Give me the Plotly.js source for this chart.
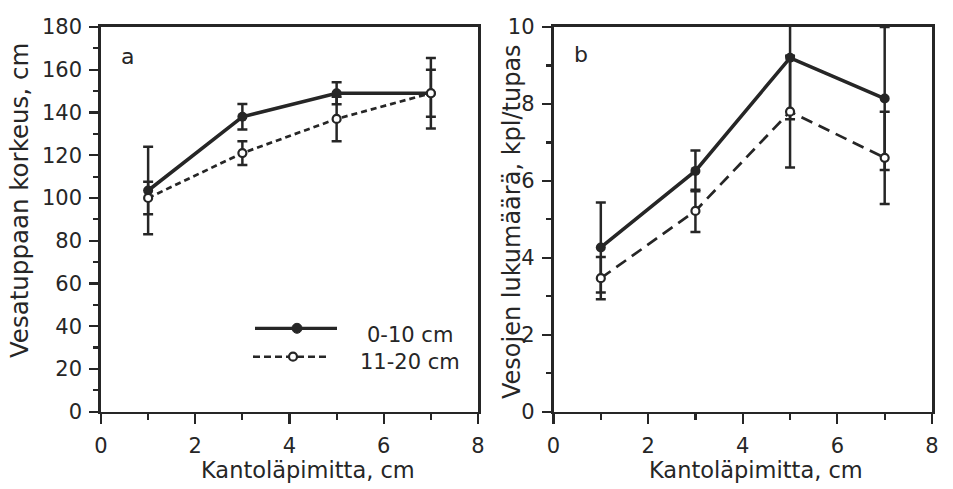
<!DOCTYPE html>
<html>
<head>
<meta charset="utf-8">
<script src="https://cdn.plot.ly/plotly-3.0.1.min.js"></script>
<style>html,body{margin:0;padding:0;background:#fff;}#chart{width:953px;height:489px;}</style>
</head>
<body>
<div id="chart"></div>
<script>
// ---- data ----
const diameters = [1, 3, 5, 7];                 // Kantoläpimitta, cm
const seriesNames = ["0-10 cm", "11-20 cm"];

// panel a: Vesatuppaan korkeus, cm
const heightShallow = [103.5, 138, 149, 149];
const heightShallowErr = [20.5, 6, 5.2, 11];
const heightDeep = [100, 121, 137, 149];
const heightDeepErr = [7.6, 5.6, 10.4, 16.5];

// panel b: Vesojen lukumäärä, kpl/tupas
const countShallow = [4.27, 6.26, 9.2, 8.14];
const countShallowErr = [1.17, 0.53, 1.6, 1.86];
const countDeep = [3.47, 5.22, 7.8, 6.6];
const countDeepErr = [0.55, 0.55, 1.45, 1.2];

const xTickVals = [0, 2, 4, 6, 8];
const yTickValsA = [0, 20, 40, 60, 80, 100, 120, 140, 160, 180];
const yTickValsB = [0, 2, 4, 6, 8, 10];

// ---- styling ----
const INK = "#262626";
const FONT = "DejaVu Sans, Liberation Sans, Arial, sans-serif";
const W = 953, H = 489;
const px = v => v / W;
const py = v => 1 - v / H;

function solidTrace(x, y, err, xa, ya) {
  return {
    type: "scatter", mode: "lines+markers", x: x, y: y, xaxis: xa, yaxis: ya,
    name: seriesNames[0], showlegend: false, cliponaxis: true,
    line: {color: INK, width: 3.5},
    marker: {symbol: "circle", size: 10, color: INK},
    error_y: {type: "data", array: err, visible: true, color: INK, thickness: 2.5, width: 5}
  };
}
function dashedTrace(x, y, err, xa, ya, dash) {
  return {
    type: "scatter", mode: "lines+markers", x: x, y: y, xaxis: xa, yaxis: ya,
    name: seriesNames[1], showlegend: false, cliponaxis: true,
    line: {color: INK, width: 2.7, dash: dash},
    marker: {symbol: "circle", size: 8, color: "#ffffff", line: {color: INK, width: 2.2}},
    error_y: {type: "data", array: err, visible: true, color: INK, thickness: 2.5, width: 5}
  };
}

const data = [
  solidTrace(diameters, heightShallow, heightShallowErr, "x", "y"),
  dashedTrace(diameters, heightDeep, heightDeepErr, "x", "y", "6px,4px"),
  solidTrace(diameters, countShallow, countShallowErr, "x2", "y2"),
  dashedTrace(diameters, countDeep, countDeepErr, "x2", "y2", "12px,7px")
];

function xAxis(domain, anchor) {
  return {
    domain: domain, anchor: anchor, range: [0, 8], tickvals: xTickVals,
    ticks: "outside", ticklen: 10, tickwidth: 2.2, tickcolor: INK,
    minor: {dtick: 1, ticks: "outside", ticklen: 6, tickwidth: 2.2, tickcolor: INK, showgrid: false},
    showline: true, mirror: true, linewidth: 2.7, linecolor: INK,
    showgrid: false, zeroline: false,
    tickfont: {family: FONT, size: 21, color: INK}, ticklabelstandoff: 3
  };
}
function yAxis(domain, anchor, range, vals, minorStep) {
  return {
    domain: domain, anchor: anchor, range: range, tickvals: vals,
    ticks: "outside", ticklen: 9, tickwidth: 2.2, tickcolor: INK,
    minor: {dtick: minorStep, ticks: "outside", ticklen: 5, tickwidth: 2.2, tickcolor: INK, showgrid: false},
    showline: true, mirror: true, linewidth: 2.7, linecolor: INK,
    showgrid: false, zeroline: false,
    tickfont: {family: FONT, size: 21, color: INK}, ticklabelstandoff: 3
  };
}

const yDom = [py(411.7), py(27)];

const annFont = s => ({family: FONT, size: s, color: INK});
const layout = {
  width: W, height: H,
  margin: {l: 0, r: 0, t: 0, b: 0},
  paper_bgcolor: "#ffffff", plot_bgcolor: "#ffffff",
  showlegend: false,
  xaxis: xAxis([px(101), px(478)], "y"),
  yaxis: yAxis(yDom, "x", [0, 180], yTickValsA, 10),
  xaxis2: xAxis([px(553.5), px(932)], "y2"),
  yaxis2: yAxis(yDom, "x2", [0, 10], yTickValsB, 1),
  annotations: [
    {xref: "paper", yref: "paper", x: px(308), y: py(470), text: "Kantoläpimitta, cm",
     showarrow: false, xanchor: "center", yanchor: "middle", font: annFont(22.5)},
    {xref: "paper", yref: "paper", x: px(756), y: py(470), text: "Kantoläpimitta, cm",
     showarrow: false, xanchor: "center", yanchor: "middle", font: annFont(22.5)},
    {xref: "paper", yref: "paper", x: px(19), y: py(201), text: "Vesatuppaan korkeus, cm",
     textangle: -90, showarrow: false, xanchor: "center", yanchor: "middle", font: annFont(24.5)},
    {xref: "paper", yref: "paper", x: px(512), y: py(222), text: "Vesojen lukumäärä, kpl/tupas",
     textangle: -90, showarrow: false, xanchor: "center", yanchor: "middle", font: annFont(24)},
    {xref: "paper", yref: "paper", x: px(119), y: py(56), text: "a",
     showarrow: false, xanchor: "left", yanchor: "middle", font: annFont(22)},
    {xref: "paper", yref: "paper", x: px(572), y: py(54), text: "b",
     showarrow: false, xanchor: "left", yanchor: "middle", font: annFont(22)},
    // legend labels
    {xref: "paper", yref: "paper", x: px(365), y: py(335), text: seriesNames[0],
     showarrow: false, xanchor: "left", yanchor: "middle", font: annFont(21)},
    {xref: "paper", yref: "paper", x: px(358), y: py(362), text: seriesNames[1],
     showarrow: false, xanchor: "left", yanchor: "middle", font: annFont(21)}
  ],
  shapes: [
    // legend samples
    {type: "line", xref: "paper", yref: "paper", x0: px(255), x1: px(337), y0: py(328.3), y1: py(328.3),
     line: {color: INK, width: 3.2}},
    {type: "circle", xref: "paper", yref: "paper", xsizemode: "pixel", ysizemode: "pixel",
     xanchor: px(297), yanchor: py(328.3), x0: -5, x1: 5, y0: -5, y1: 5,
     fillcolor: INK, line: {color: INK, width: 1}},
    {type: "line", xref: "paper", yref: "paper", x0: px(253), x1: px(329), y0: py(356.7), y1: py(356.7),
     line: {color: INK, width: 2.6, dash: "7px,4px"}},
    {type: "circle", xref: "paper", yref: "paper", xsizemode: "pixel", ysizemode: "pixel",
     xanchor: px(293), yanchor: py(356.7), x0: -4, x1: 4, y0: -4, y1: 4,
     fillcolor: "#ffffff", line: {color: INK, width: 2.2}}
  ]
};

Plotly.newPlot("chart", data, layout, {staticPlot: true, displayModeBar: false});
</script>
</body>
</html>
